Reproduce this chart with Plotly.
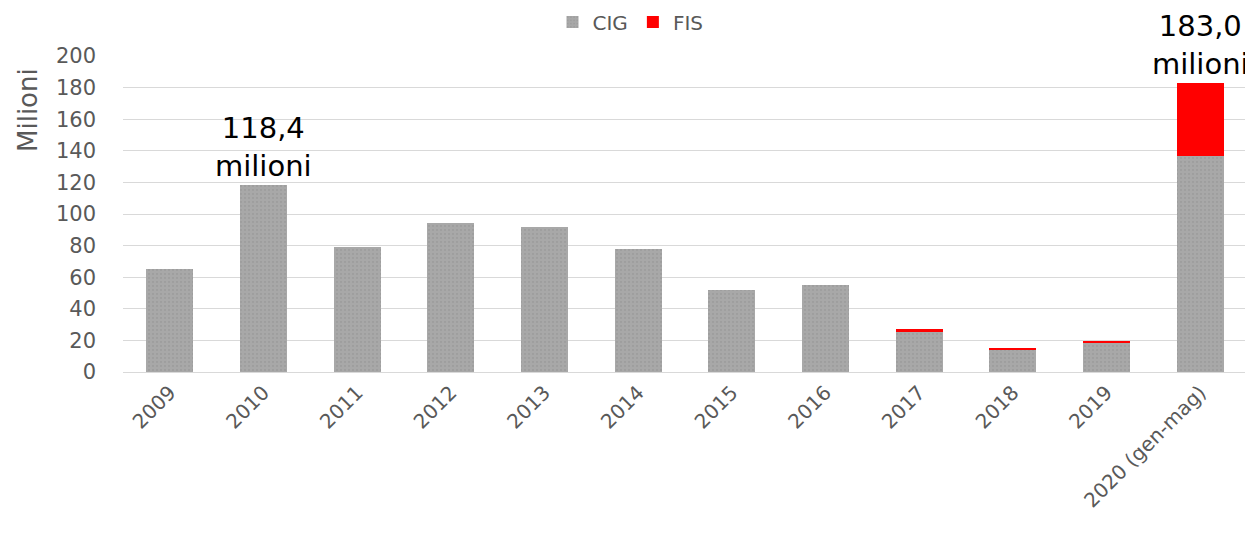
import plotly.graph_objects as go

categories = ["2009", "2010", "2011", "2012", "2013", "2014", "2015", "2016",
              "2017", "2018", "2019", "2020 (gen-mag)"]
cig = [65, 118.4, 79, 94, 92, 78, 52, 55, 25.5, 14, 18.2, 137]
fis = [0, 0, 0, 0, 0, 0, 0, 0, 1.5, 1.4, 1.6, 46]
yticks = [0, 20, 40, 60, 80, 100, 120, 140, 160, 180, 200]
notes = {"2010": "118,4<br>milioni", "2020 (gen-mag)": "183,0<br>milioni"}
totals = [c + f for c, f in zip(cig, fis)]
xpos = list(range(len(categories)))

FONT = "DejaVu Sans"
W, H = 1245, 528
ML, MR, MT, MB = 115, 6, 48, 164

fig = go.Figure()
fig.add_trace(go.Bar(
    name="CIG", x=xpos, y=cig,
    marker=dict(color="#a6a6a6", line=dict(width=0),
                pattern=dict(shape=".", fgcolor="#949494", bgcolor="#a8a8a8",
                             size=4, solidity=0.25)),
))
fig.add_trace(go.Bar(
    name="FIS", x=xpos, y=fis,
    marker=dict(color="#ff0000", line=dict(width=0)),
))

for cat, txt in notes.items():
    i = categories.index(cat)
    fig.add_annotation(x=xpos[i], y=totals[i], text=txt, showarrow=False,
                       yanchor="bottom", yshift=0,
                       font=dict(family=FONT, size=29, color="#000000"))

# y axis title
pw, ph = W - ML - MR, H - MT - MB
fig.add_annotation(xref="paper", yref="paper", x=(20 - ML) / pw, y=(H - MB - 102) / ph,
                   text="Milioni", textangle=-90, showarrow=False,
                   xanchor="center", yanchor="middle",
                   font=dict(family=FONT, size=26, color="#595959"))

fig.update_layout(
    barmode="stack",
    bargap=0.5,
    width=W, height=H,
    margin=dict(l=ML, r=MR, t=MT, b=MB),
    paper_bgcolor="white", plot_bgcolor="white",
    font=dict(family=FONT, size=21, color="#595959"),
    legend=dict(orientation="h", xref="container", x=0.5, xanchor="center",
                yref="container", y=1 - 14 / H, yanchor="middle", itemwidth=30,
                font=dict(size=20, color="#595959"),
                traceorder="normal"),
    xaxis=dict(type="linear", range=[-0.5, len(categories) - 0.5],
               tickmode="array", tickvals=xpos, ticktext=categories,
               tickangle=-45, showgrid=False, showline=True, zeroline=False,
               linecolor="#d9d9d9", automargin=False,
               linewidth=1, ticks="", tickfont=dict(size=20, color="#595959")),
    yaxis=dict(range=[0, 200], tickvals=yticks, showgrid=True, gridcolor="#d9d9d9",
               gridwidth=1, zeroline=False, ticks="", automargin=False,
               ticklabelstandoff=26,
               tickfont=dict(size=21, color="#595959")),
)

fig.write_html("out.html")
